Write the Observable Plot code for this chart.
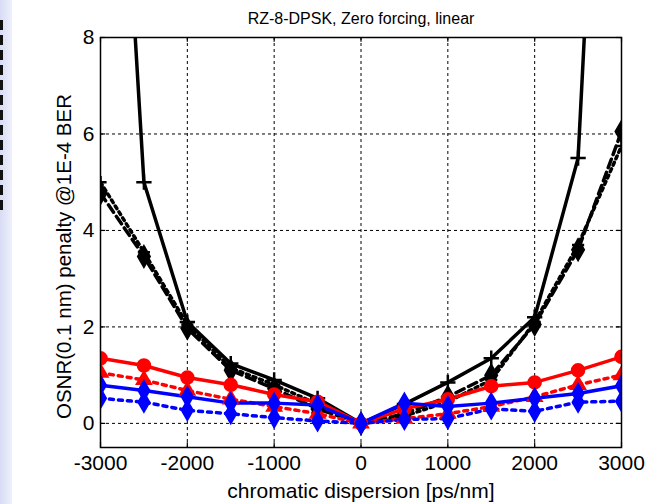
<!DOCTYPE html>
<html>
<head>
<meta charset="utf-8">
<script src="https://cdn.jsdelivr.net/npm/d3@7"></script>
<script src="https://cdn.jsdelivr.net/npm/@observablehq/plot@0.6"></script>
<style>
  html, body { margin: 0; padding: 0; background: #fff; }
  body { width: 655px; height: 504px; overflow: hidden; position: relative; font-family: "Liberation Sans", Arial, sans-serif; }
  #strip { position: absolute; left: 0; top: 0; width: 12px; height: 504px;
    background: linear-gradient(to right, #d8dcf4, #eef0fb); }
  #dashes { position: absolute; left: 0; top: 20px; width: 3px; height: 192px;
    background: repeating-linear-gradient(to bottom, #111 0 10px, transparent 10px 15px); }
  #chart { position: absolute; left: 0; top: 0; }
</style>
</head>
<body>
<div id="strip"></div>
<div id="dashes"></div>
<div id="chart"></div>
<script>
const dispersion = [-3000, -2500, -2000, -1500, -1000, -500, 0, 500, 1000, 1500, 2000, 2500, 3000];
const blackSolid  = [20, 5.0, 2.1, 1.24, 0.9, 0.52, 0, 0.4, 0.85, 1.35, 2.2, 5.5, 23];
const blackDashed = [4.77, 3.46, 1.97, 1.1, 0.72, 0.3, 0, 0.2, 0.55, 1.0, 2.05, 3.6, 6.05];
const blackDotted = [5.0, 3.55, 2.05, 1.15, 0.8, 0.4, 0, 0.15, 0.45, 0.9, 2.1, 3.7, 5.75];
const redSolid    = [1.35, 1.2, 0.95, 0.8, 0.6, 0.45, 0, 0.3, 0.5, 0.77, 0.85, 1.1, 1.38];
const redDotted   = [1.05, 0.9, 0.68, 0.5, 0.35, 0.2, 0, 0.1, 0.2, 0.35, 0.55, 0.8, 1.0];
const blueSolid   = [0.79, 0.68, 0.55, 0.42, 0.42, 0.38, 0, 0.42, 0.35, 0.42, 0.52, 0.62, 0.78];
const blueDotted  = [0.52, 0.44, 0.27, 0.2, 0.12, 0.05, 0, 0.08, 0.1, 0.3, 0.25, 0.44, 0.46];
const xTicks = [-3000, -2000, -1000, 0, 1000, 2000, 3000];
const yTicks = [0, 2, 4, 6, 8];
const titleText = "RZ-8-DPSK, Zero forcing, linear";
const xLabel = "chromatic dispersion [ps/nm]";
const yLabel = "OSNR(0.1 nm) penalty @1E-4 BER";

const seriesSpec = [
  {values: blackSolid,  color: "#000", dash: null,  symbol: "plus",     fill: "none", r: 5},
  {values: blackDashed, color: "#000", dash: "9,5", symbol: "diamond",  fill: "#000", r: 6},
  {values: blackDotted, color: "#000", dash: "3,4", symbol: "plus",     fill: "none", r: 4},
  {values: redSolid,    color: "#ff0000", dash: null,  symbol: "circle",   fill: "#ff0000", r: 6},
  {values: redDotted,   color: "#ff0000", dash: "4,5", symbol: "triangle", fill: "#ff0000", r: 5},
  {values: blueSolid,   color: "#0000ff", dash: null,  symbol: "diamond",  fill: "#0000ff", r: 5.5},
  {values: blueDotted,  color: "#0000ff", dash: "4,5", symbol: "diamond",  fill: "#0000ff", r: 5.5}
];

const marks = [
  Plot.gridX(xTicks, {stroke: "#000", strokeOpacity: 1, strokeDasharray: "3,3", strokeWidth: 1}),
  Plot.gridY(yTicks, {stroke: "#000", strokeOpacity: 1, strokeDasharray: "3,3", strokeWidth: 1}),
  Plot.axisX(xTicks, {anchor: "bottom", tickSize: 0, tickPadding: 8, fontSize: 21, label: xLabel, labelAnchor: "center", labelOffset: 50, labelArrow: "none", tickFormat: d => String(d)}),
  Plot.axisY(yTicks, {anchor: "left", tickSize: 0, tickPadding: 6, fontSize: 21, label: null, tickFormat: d => String(d)}),
  Plot.text([yLabel], {text: d => d, frameAnchor: "left", textAnchor: "middle", lineAnchor: "middle", rotate: -90, dx: -36, dy: 14, fontSize: 20.5, fill: "#000"}),
  Plot.ruleX(xTicks, {x: d => d, y1: -0.5, y2: -0.4, stroke: "#000", strokeWidth: 1.2}),
  Plot.ruleX(xTicks, {x: d => d, y1: 7.9, y2: 8, stroke: "#000", strokeWidth: 1.2}),
  Plot.ruleY(yTicks, {y: d => d, x1: -3000, x2: -2940, stroke: "#000", strokeWidth: 1.2}),
  Plot.ruleY(yTicks, {y: d => d, x1: 2940, x2: 3000, stroke: "#000", strokeWidth: 1.2})
];

for (const s of seriesSpec) {
  const data = dispersion.map((d, i) => ({x: d, y: s.values[i]}));
  marks.push(Plot.line(data, {x: "x", y: "y", stroke: s.color, strokeWidth: 3.5, strokeDasharray: s.dash, clip: true}));
}
for (const s of seriesSpec) {
  const data = dispersion.map((d, i) => ({x: d, y: s.values[i]}));
  marks.push(Plot.dot(data, {x: "x", y: "y", symbol: s.symbol, r: s.r, stroke: s.color, strokeWidth: 2.5, fill: s.fill, clip: true}));
}
marks.push(Plot.frame({stroke: "#000", strokeWidth: 1.5}));
marks.push(Plot.text([titleText], {text: d => d, frameAnchor: "top", dy: -25, fontSize: 16, fill: "#000"}));

const chart = Plot.plot({
  width: 655,
  height: 504,
  marginLeft: 100,
  marginRight: 34,
  marginTop: 37,
  marginBottom: 57,
  style: {fontFamily: "'Liberation Sans', Arial, sans-serif", fontSize: "21px", color: "#000", background: "transparent"},
  x: {domain: [-3000, 3000]},
  y: {domain: [-0.5, 8]},
  marks
});
document.getElementById("chart").appendChild(chart);
</script>
</body>
</html>
